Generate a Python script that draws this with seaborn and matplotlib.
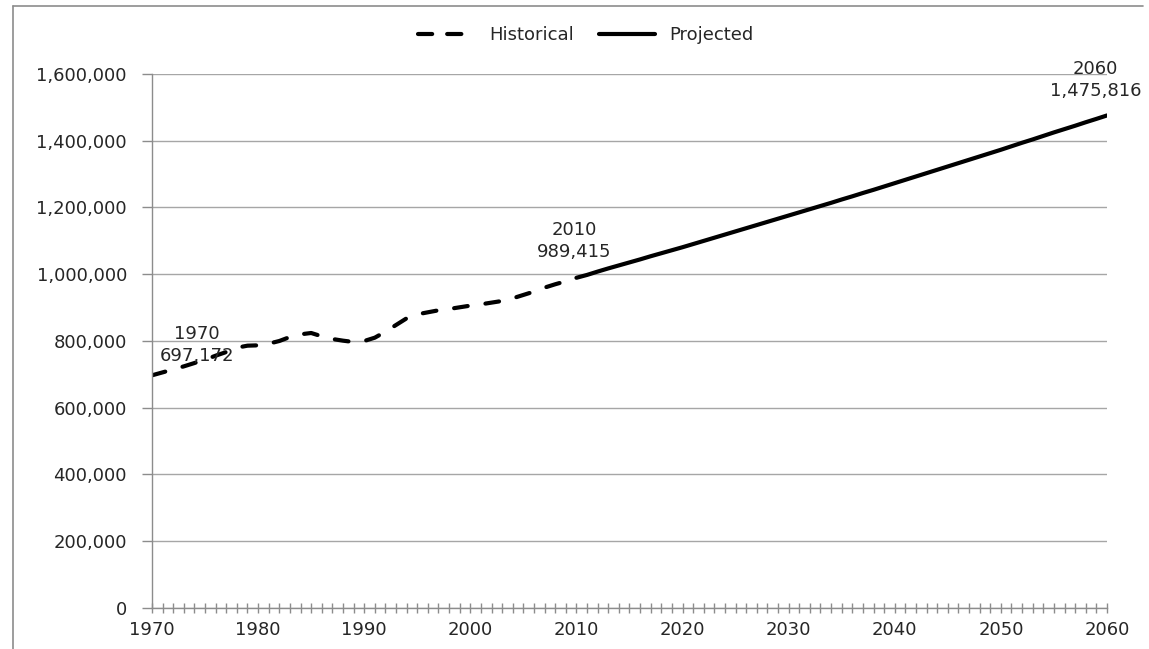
import pandas as pd
import numpy as np
import matplotlib
matplotlib.use('Agg')
import matplotlib.pyplot as plt
import matplotlib.ticker as mticker
from matplotlib.lines import Line2D
import seaborn as sns

hist_years = list(range(1970, 2011))
hist_pop = [697172, 706000, 715000, 724000, 734000, 744000, 756000, 767000, 780000, 786000,
            787000, 792000, 800000, 812000, 820000, 824000, 814000, 806000, 801000, 797000,
            800000, 810000, 828000, 848000, 868000, 880000, 886000, 892000, 896000, 901000,
            906000, 910000, 915000, 920000, 928000, 938000, 948000, 960000, 970000, 979000,
            989415]
proj_years = list(range(2010, 2061))
proj_pop = [989415, 998000, 1008000, 1017500, 1026500, 1035500, 1044500, 1054000, 1063000, 1072000,
            1081000, 1090500, 1100000, 1109500, 1119000, 1128500, 1138000, 1147500, 1157000, 1166500,
            1176000, 1185500, 1195000, 1204500, 1214000, 1224000, 1233500, 1243500, 1253000, 1263000,
            1273000, 1283000, 1293000, 1303000, 1313000, 1323000, 1333000, 1343000, 1353000, 1363000,
            1373000, 1383500, 1394000, 1404000, 1414500, 1425000, 1435000, 1445000, 1455500, 1465500,
            1475816]
callouts = [(1974.2, 788000, '1970\n697,172'),
            (2009.8, 1100000, '2010\n989,415'),
            (2058.9, 1583000, '2060\n1,475,816')]

df = pd.concat([
    pd.DataFrame({'year': hist_years, 'pop': hist_pop, 'series': 'Historical'}),
    pd.DataFrame({'year': proj_years, 'pop': proj_pop, 'series': 'Projected'}),
])

sns.set_style('white')
plt.rcParams['font.family'] = ['DejaVu Sans']
txt = '#262626'
grey = '#8c8c8c'
fs = 13

fig = plt.figure(figsize=(11.49, 6.49), dpi=100)
ax = fig.add_axes([152/1149, 1-608/649, (1107-152)/1149, (608-74)/649])

sns.lineplot(data=df, x='year', y='pop', hue='series', style='series',
             palette={'Historical': 'black', 'Projected': 'black'},
             dashes={'Historical': (3.3, 4.3), 'Projected': ''},
             linewidth=3, ax=ax, legend=False)
for ln in ax.lines:
    ln.set_dash_capstyle('round')
    ln.set_solid_capstyle('round')

ax.set_xlim(1970, 2060)
ax.set_ylim(0, 1600000)
ax.set_xticks(range(1970, 2061, 10))
ax.xaxis.set_minor_locator(mticker.MultipleLocator(1))
ax.set_yticks(range(0, 1600001, 200000))
ax.yaxis.set_major_formatter(mticker.FuncFormatter(lambda v, p: f'{int(v):,}'))
ax.grid(axis='y', color='#a6a6a6', linewidth=1)
ax.set_axisbelow(True)
ax.set_xlabel('')
ax.set_ylabel('')
for s in ['top', 'right']:
    ax.spines[s].set_visible(False)
for s in ['left', 'bottom']:
    ax.spines[s].set_color(grey)
    ax.spines[s].set_linewidth(1)
ax.tick_params(axis='x', which='both', direction='inout', length=7, color=grey,
               width=1, labelsize=fs, labelcolor=txt, pad=6, bottom=True)
ax.tick_params(axis='y', direction='out', length=7, color=grey, width=1,
               labelsize=fs, labelcolor=txt, pad=11, left=True)

for x, y, t in callouts:
    ax.text(x, y, t, ha='center', va='center', fontsize=fs, color=txt,
            linespacing=1.3, clip_on=False)

handles = [Line2D([], [], color='black', lw=3, dashes=(3.4, 3.6), dash_capstyle='round'),
           Line2D([], [], color='black', lw=3)]
fig.legend(handles, ['Historical', 'Projected'], loc='center', ncol=2,
           bbox_to_anchor=(586/1149, 1-35/649), frameon=False, fontsize=fs,
           handlelength=3.1, columnspacing=1.4, handletextpad=0.8, labelcolor=txt)

# outer chart border (top and left only, rest cropped)
fig.add_artist(Line2D([13/1149, 1143/1149], [1-6/649, 1-6/649], color=grey, lw=1.2))
fig.add_artist(Line2D([13/1149, 13/1149], [0, 1-6/649], color=grey, lw=1.2))

fig.savefig('out.png', dpi=100)
